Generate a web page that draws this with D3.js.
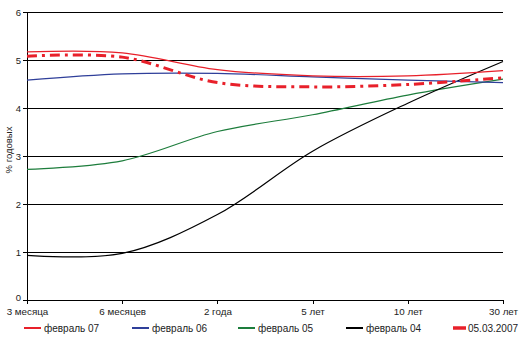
<!DOCTYPE html>
<html><head><meta charset="utf-8">
<script src="https://cdn.jsdelivr.net/npm/d3@7"></script>
<style>body{margin:0;background:#fff}svg{display:block}text{font-family:"Liberation Sans",Arial,sans-serif}</style>
</head><body><svg id="c" width="528" height="342"></svg>
<script>
const categories = ["3 месяца","6 месяцев","2 года","5 лет","10 лет","30 лет"];
const yTicks = [0,1,2,3,4,5,6];
const feb07 = [5.17,5.15,4.80,4.67,4.67,4.78];
const feb06 = [4.58,4.71,4.72,4.65,4.58,4.53];
const feb05 = [2.72,2.90,3.51,3.86,4.27,4.60];
const feb04 = [0.93,0.97,1.78,3.10,4.10,4.97];
const mar2007 = [5.08,5.06,4.53,4.44,4.49,4.63];
const seriesNames = ["февраль 07","февраль 06","февраль 05","февраль 04","05.03.2007"];
const seriesData = [feb07,feb06,feb05,feb04,mar2007];
const colors = ["#e8202a","#2f3f9a","#1d7d3c","#000000","#e8202a"];
const widths = [1.2,1.2,1.2,1.2,3];
const dashes = [null,null,null,null,"10,5,3,5"];

const svg = d3.select("#c");
const x = d3.scalePoint().domain(categories).range([27,503]);
const y = d3.scaleLinear().domain([0,6]).range([300,12]);

svg.append("g").selectAll("line").data(yTicks.filter(d=>d>0)).join("line")
  .attr("x1",27).attr("x2",503).attr("y1",d=>y(d)).attr("y2",d=>y(d))
  .attr("stroke","#000").attr("stroke-width",1).attr("shape-rendering","crispEdges");

const yAxis = svg.append("g").attr("transform","translate(27,0)")
  .call(d3.axisLeft(y).tickValues(yTicks).tickSize(4).tickPadding(2).tickFormat(d3.format("d")));
yAxis.select(".domain").attr("shape-rendering","crispEdges").attr("d","M0,12V300");
yAxis.selectAll("text").attr("font-size","9.5px").attr("fill","#222");
yAxis.selectAll(".tick").filter(d=>d===0).select("text").attr("dy","0.1em");
yAxis.selectAll("line").attr("shape-rendering","crispEdges");

const xAxis = svg.append("g").attr("transform","translate(0,300)")
  .call(d3.axisBottom(x).tickSize(4).tickPadding(4));
xAxis.select(".domain").attr("d","M27,0H503").attr("shape-rendering","crispEdges");
xAxis.selectAll("line").attr("shape-rendering","crispEdges");
xAxis.selectAll("text").attr("font-size","9.8px").attr("fill","#222");

svg.append("text").attr("transform","translate(12,150) rotate(-90)")
  .attr("text-anchor","middle").attr("font-size","9.5px").attr("fill","#222").text("% годовых");

const line = d3.line().x((d,i)=>x(categories[i])).y(d=>y(d)).curve(d3.curveCatmullRom.alpha(0.5));
const order = [2,3,1,0,4];
order.forEach(k=>{
  svg.append("path").attr("d",line(seriesData[k])).attr("fill","none")
    .attr("stroke",colors[k]).attr("stroke-width",widths[k])
    .attr("stroke-dasharray",dashes[k]);
});

const legX = [24,132,238,346,453];
const lg = svg.append("g");
seriesNames.forEach((n,i)=>{
  lg.append("line").attr("x1",legX[i]).attr("x2",legX[i]+(i===4?13:17)).attr("y1",328).attr("y2",328)
    .attr("stroke",colors[i]).attr("stroke-width",i===4?3.5:2);
  lg.append("text").attr("x",legX[i]+(i===4?15:20)).attr("y",331.5).attr("font-size","10px").attr("fill","#222").text(n);
});
</script></body></html>
